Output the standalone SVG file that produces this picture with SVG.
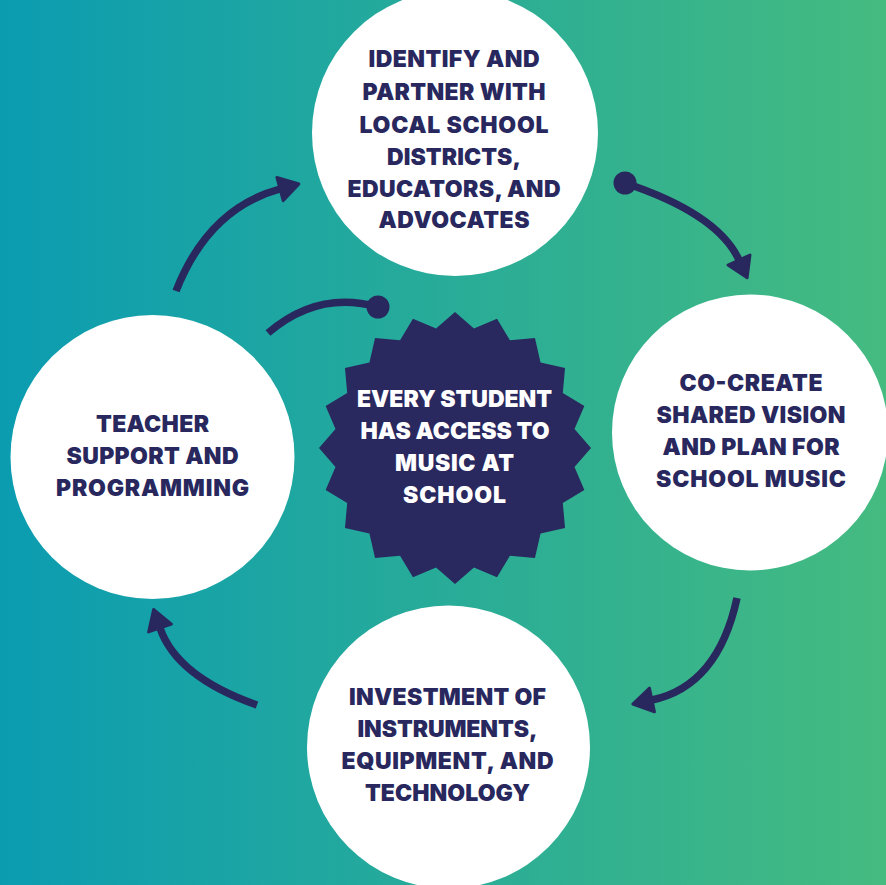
<svg xmlns="http://www.w3.org/2000/svg" width="886" height="885" viewBox="0 0 886 885">
<defs>
<linearGradient id="bg" x1="0" y1="0" x2="1" y2="0">
<stop offset="0" stop-color="#0b9cb1"/>
<stop offset="1" stop-color="#45bb80"/>
</linearGradient>
<marker id="ah" markerUnits="userSpaceOnUse" markerWidth="30" markerHeight="30" viewBox="-2 -13 24 26" refX="0" refY="0" orient="auto">
<path d="M0,-10.5 L17,0 L0,10.5 Z" fill="#28285e" stroke="#28285e" stroke-width="2.5" stroke-linejoin="round"/>
</marker>
<style>
.node circle{fill:#ffffff}
.lbl{font-family:Inter,"Liberation Sans",sans-serif;font-weight:900;font-size:23px;fill:#28285e;text-anchor:middle}
.star-lbl{fill:#ffffff}
.conn path{fill:none;stroke:#28285e;stroke-width:7.5}
.dot{fill:#28285e}
</style>
</defs>
<rect x="0" y="0" width="886" height="885" fill="url(#bg)"/>

<g id="connectors" class="conn">
<path d="M176,291 Q208.5,208.3 280,189" marker-end="url(#ah)"/>
<path d="M625,183 Q718,214 739,260" marker-end="url(#ah)"/>
<circle class="dot" cx="625" cy="183" r="11.5"/>
<path d="M737,598 Q718,686 652,700" marker-end="url(#ah)"/>
<path d="M257,705 Q177,677 160,628" marker-end="url(#ah)"/>
<path d="M268,333 Q318,290 378,307"/>
<circle class="dot" cx="378" cy="307" r="11.5"/>
</g>

<g id="node-top" class="node">
<circle cx="455" cy="133" r="143"/>
<text class="lbl" x="454" y="67" textLength="171">IDENTIFY AND</text>
<text class="lbl" x="454" y="100" textLength="183">PARTNER WITH</text>
<text class="lbl" x="454" y="132.5" textLength="189">LOCAL SCHOOL</text>
<text class="lbl" x="454" y="164.5" textLength="134">DISTRICTS,</text>
<text class="lbl" x="454" y="196.5" textLength="213">EDUCATORS, AND</text>
<text class="lbl" x="454" y="228" textLength="151">ADVOCATES</text>
</g>

<g id="node-right" class="node">
<circle cx="750" cy="432.5" r="138"/>
<text class="lbl" x="751" y="391" textLength="143">CO-CREATE</text>
<text class="lbl" x="751" y="423" textLength="189">SHARED VISION</text>
<text class="lbl" x="751" y="455" textLength="177">AND PLAN FOR</text>
<text class="lbl" x="751" y="487" textLength="190">SCHOOL MUSIC</text>
</g>

<g id="node-bottom" class="node">
<circle cx="448.5" cy="747" r="141.5"/>
<text class="lbl" x="447.5" y="705" textLength="197">INVESTMENT OF</text>
<text class="lbl" x="447.5" y="737" textLength="180">INSTRUMENTS,</text>
<text class="lbl" x="447.5" y="769" textLength="212">EQUIPMENT, AND</text>
<text class="lbl" x="447.5" y="801" textLength="165">TECHNOLOGY</text>
</g>

<g id="node-left" class="node">
<circle cx="152.5" cy="457" r="142"/>
<text class="lbl" x="152.5" y="432" textLength="113">TEACHER</text>
<text class="lbl" x="152.5" y="464" textLength="172">SUPPORT AND</text>
<text class="lbl" x="152.5" y="496" textLength="193">PROGRAMMING</text>
</g>

<g id="node-center">
<polygon fill="#29285f" points="455,312 473.93,328.49 497.03,318.66 509.93,340.19 534.94,337.97 540.56,362.44 565.03,368.06 562.81,393.07 584.34,405.97 574.51,429.07 591,448 574.51,466.93 584.34,490.03 562.81,502.93 565.03,527.94 540.56,533.56 534.94,558.03 509.93,555.81 497.03,577.34 473.93,567.51 455,584 436.07,567.51 412.97,577.34 400.07,555.81 375.06,558.03 369.44,533.56 344.97,527.94 347.19,502.93 325.66,490.03 335.49,466.93 319,448 335.49,429.07 325.66,405.97 347.19,393.07 344.97,368.06 369.44,362.44 375.06,337.97 400.07,340.19 412.97,318.66 436.07,328.49"/>
<text class="lbl star-lbl" x="454.5" y="407" textLength="195">EVERY STUDENT</text>
<text class="lbl star-lbl" x="455" y="439" textLength="189">HAS ACCESS TO</text>
<text class="lbl star-lbl" x="454.5" y="471" textLength="119">MUSIC AT</text>
<text class="lbl star-lbl" x="454.5" y="503" textLength="103">SCHOOL</text>
</g>
</svg>
